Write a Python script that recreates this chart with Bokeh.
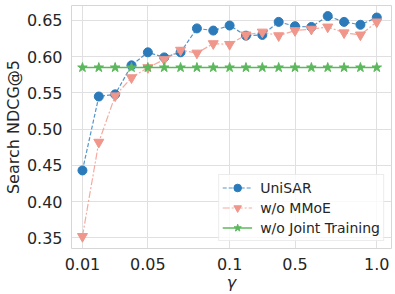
from bokeh.plotting import figure
from bokeh.models import FixedTicker, Range1d
from bokeh.embed import file_html
from bokeh.resources import INLINE

# ---- data ----
gamma_labels = ["0.01", "0.02", "0.03", "0.04", "0.05", "0.06", "0.07", "0.08", "0.09",
                "0.1", "0.2", "0.3", "0.4", "0.5", "0.6", "0.7", "0.8", "0.9", "1.0"]
unisar = [0.443, 0.545, 0.548, 0.588, 0.606, 0.599, 0.606, 0.639, 0.636, 0.643,
          0.629, 0.630, 0.648, 0.642, 0.641, 0.656, 0.648, 0.644, 0.654]
wo_mmoe = [0.352, 0.482, 0.546, 0.571, 0.585, 0.596, 0.609, 0.605, 0.618, 0.617,
           0.630, 0.634, 0.629, 0.636, 0.638, 0.641, 0.633, 0.630, 0.648]
wo_joint = [0.585] * 19
x_tick_labels = ["0.01", "0.05", "0.1", "0.5", "1.0"]
y_ticks = [0.35, 0.40, 0.45, 0.50, 0.55, 0.60, 0.65]
y_tick_labels = ["0.35", "0.40", "0.45", "0.50", "0.55", "0.60", "0.65"]

xs = list(range(len(gamma_labels)))
x_tick_pos = [gamma_labels.index(t) for t in x_tick_labels]

FONT = "DejaVu Sans"
TXT = "#262626"
BLUE = "#2b7bba"
SALMON = "#f0968a"
GREEN = "#5cb85c"

p = figure(width=395, height=294, output_backend="svg", toolbar_location=None,
           x_range=Range1d(-0.67, 18.9), y_range=Range1d(0.3353, 0.6706),
           min_border_left=60, min_border_right=4, min_border_top=5, min_border_bottom=45)

p.outline_line_color = "#d6d6d6"
p.outline_line_width = 1

p.xaxis.ticker = FixedTicker(ticks=x_tick_pos)
p.xaxis.major_label_overrides = {pos: lab for pos, lab in zip(x_tick_pos, x_tick_labels)}
p.yaxis.ticker = FixedTicker(ticks=y_ticks)
p.yaxis.major_label_overrides = {v: lab for v, lab in zip(y_ticks, y_tick_labels)}

for ax in (p.xaxis[0], p.yaxis[0]):
    ax.axis_line_color = None
    ax.major_tick_line_color = None
    ax.minor_tick_line_color = None
    ax.major_label_text_font = FONT
    ax.major_label_text_font_size = "16px"
    ax.major_label_text_color = TXT
    ax.axis_label_text_font = FONT
    ax.axis_label_text_font_size = "16px"
    ax.axis_label_text_color = TXT

p.xaxis.axis_label = "γ"
p.xaxis.axis_label_text_font_style = "italic"
p.xaxis.major_label_standoff = 3
p.xaxis.axis_label_standoff = 0
p.yaxis.axis_label = "Search NDCG@5"
p.yaxis.axis_label_text_font_style = "normal"
p.yaxis.major_label_standoff = 3
p.yaxis.axis_label_standoff = 1

p.xgrid.grid_line_color = "#e0e0e0"
p.ygrid.grid_line_color = "#e0e0e0"

p.line(xs, unisar, color=BLUE, line_dash="4 2", line_width=1.2, line_alpha=0.8, legend_label="UniSAR")
p.scatter(xs, unisar, marker="circle", size=9, color=BLUE, legend_label="UniSAR")

p.line(xs, wo_mmoe, color=SALMON, line_dash="7 2 2 2", line_width=1.2, line_alpha=0.8, legend_label="w/o MMoE")
p.scatter(xs, wo_mmoe, marker="inverted_triangle", size=10, color=SALMON, legend_label="w/o MMoE")

p.line(xs, wo_joint, color=GREEN, line_width=1.5, legend_label="w/o Joint Training")
p.scatter(xs, wo_joint, marker="star", size=10, color=GREEN, legend_label="w/o Joint Training")

lg = p.legend[0]
lg.location = "bottom_right"
lg.margin = 7
lg.padding = 3
lg.spacing = 1
lg.label_standoff = 8
lg.glyph_width = 30
lg.glyph_height = 19
lg.label_height = 19
lg.label_text_font = FONT
lg.label_text_font_size = "14px"
lg.label_text_color = TXT
lg.label_text_line_height = 1.0
lg.border_line_color = "#d9d9d9"
lg.background_fill_alpha = 0.8

open("out.html", "w").write(file_html(p, INLINE))
